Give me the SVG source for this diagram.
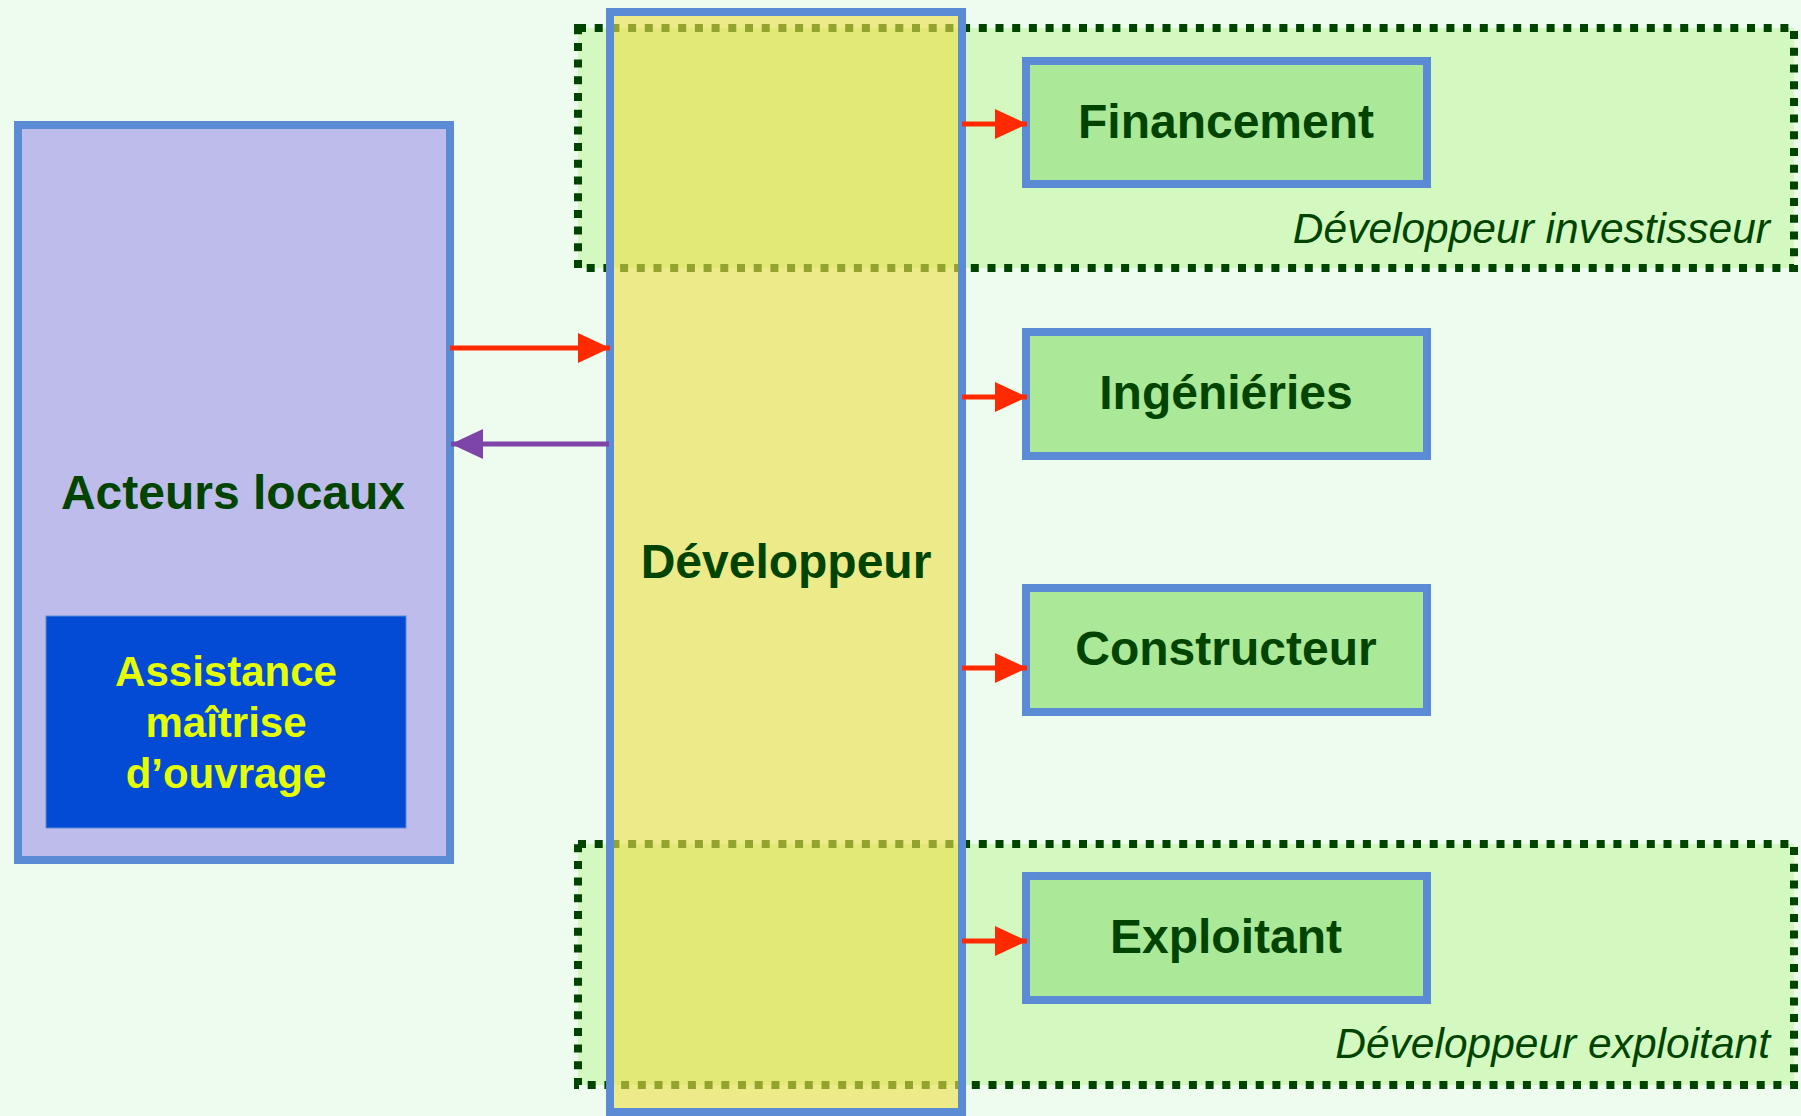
<svg xmlns="http://www.w3.org/2000/svg" width="1801" height="1116" viewBox="0 0 1801 1116">
  <defs>
    <style>
      .zone { fill: #D3F9C0; stroke: #004400; stroke-width: 8; stroke-dasharray: 8 8.7; }
      .box { fill: #ABE898; stroke: #5B8BD4; stroke-width: 8; }
      .lbl { font-family: "Liberation Sans", Arial, sans-serif; font-weight: bold; font-size: 48px; fill: #004400; text-anchor: middle; }
      .ital { font-family: "Liberation Sans", Arial, sans-serif; font-style: italic; font-size: 42.5px; fill: #004400; text-anchor: end; }
      .amo { font-family: "Liberation Sans", Arial, sans-serif; font-weight: bold; font-size: 42px; fill: #E6FF00; text-anchor: middle; }
      .red { stroke: #FF2A00; stroke-width: 5; fill: none; }
      .purple { stroke: #7D45A8; stroke-width: 5; fill: none; }
    </style>
    <marker id="headRed" markerUnits="userSpaceOnUse" markerWidth="32" markerHeight="30" refX="32" refY="15" orient="auto">
      <path d="M0,0 L32,15 L0,30 z" fill="#FF2A00"/>
    </marker>
    <marker id="headPurple" markerUnits="userSpaceOnUse" markerWidth="32" markerHeight="30" refX="32" refY="15" orient="auto">
      <path d="M0,0 L32,15 L0,30 z" fill="#7D45A8"/>
    </marker>
  </defs>

  <rect x="0" y="0" width="1801" height="1116" fill="#EEFBEF"/>

  <g id="zone-investisseur">
    <rect class="zone" x="578" y="28" width="1216" height="240"/>
    <text class="ital" x="1770" y="243">Développeur investisseur</text>
  </g>

  <g id="zone-exploitant">
    <rect class="zone" x="578" y="844" width="1216" height="241"/>
    <text class="ital" x="1770" y="1058">Développeur exploitant</text>
  </g>

  <g id="acteurs-locaux">
    <rect x="18" y="125" width="432" height="735" fill="#BEBCEA" stroke="#5B8BD4" stroke-width="8"/>
    <text class="lbl" x="233" y="509">Acteurs locaux</text>
  </g>

  <g id="assistance">
    <rect x="46" y="616" width="360" height="212" fill="#034BD5" stroke="#5B8BD4" stroke-width="1"/>
    <text class="amo" x="226" y="686">Assistance</text>
    <text class="amo" x="226" y="737">maîtrise</text>
    <text class="amo" x="226" y="788">d’ouvrage</text>
  </g>

  <g id="developpeur">
    <rect x="610" y="12" width="352" height="1100" fill="#EBDE4B" fill-opacity="0.62" stroke="#5B8BD4" stroke-width="8"/>
    <text class="lbl" x="786" y="578">Développeur</text>
  </g>

  <g id="financement">
    <rect class="box" x="1026" y="61" width="401" height="123"/>
    <text class="lbl" x="1226" y="138">Financement</text>
  </g>

  <g id="ingenieries">
    <rect class="box" x="1026" y="332" width="401" height="124"/>
    <text class="lbl" x="1226" y="409">Ingéniéries</text>
  </g>

  <g id="constructeur">
    <rect class="box" x="1026" y="588" width="401" height="124"/>
    <text class="lbl" x="1226" y="665">Constructeur</text>
  </g>

  <g id="exploitant">
    <rect class="box" x="1026" y="876" width="401" height="124"/>
    <text class="lbl" x="1226" y="953">Exploitant</text>
  </g>

  <g id="connectors">
    <line class="red" x1="450" y1="348" x2="610" y2="348" marker-end="url(#headRed)"/>
    <line class="purple" x1="609" y1="444" x2="451" y2="444" marker-end="url(#headPurple)"/>
    <line class="red" x1="962" y1="124" x2="1027" y2="124" marker-end="url(#headRed)"/>
    <line class="red" x1="962" y1="397" x2="1027" y2="397" marker-end="url(#headRed)"/>
    <line class="red" x1="962" y1="668" x2="1027" y2="668" marker-end="url(#headRed)"/>
    <line class="red" x1="962" y1="941" x2="1027" y2="941" marker-end="url(#headRed)"/>
  </g>
</svg>
